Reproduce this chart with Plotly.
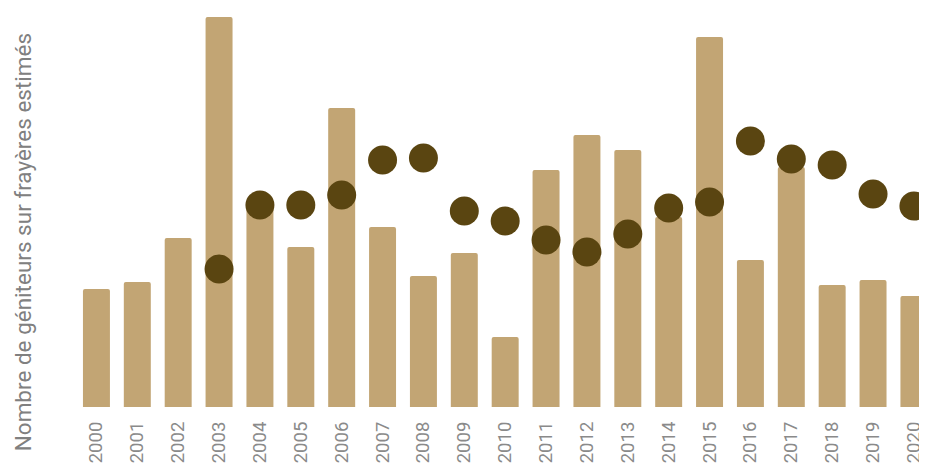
import plotly.graph_objects as go

years = list(range(2000, 2021))
tick_labels = [str(y) for y in years]
# Estimated spawner counts (relative units)
spawners = [118, 125, 169, 390, 200, 160, 299, 180, 131, 154, 70, 237, 272, 257, 190, 370, 147, 240, 122, 127, 111]
dot_years = list(range(2003, 2021))
dot_values = [138, 202, 202, 212, 247, 249, 196, 186, 167, 155, 173, 199, 205, 266, 248, 242, 213, 201]

bar_color = "#C2A574"
dot_color = "#5A4511"
font_family = "Roboto, 'Liberation Sans', Arial, sans-serif"

fig = go.Figure()
fig.add_trace(go.Bar(
    x=years, y=spawners, width=0.66,
    marker=dict(color=bar_color, line=dict(width=0), cornerradius=2),
    showlegend=False,
))
fig.add_trace(go.Scatter(
    x=dot_years, y=dot_values, mode="markers",
    marker=dict(color=dot_color, size=29, line=dict(width=0)),
    showlegend=False,
))

fig.update_layout(
    width=919, height=459,
    margin=dict(l=68, r=0, t=2, b=60),
    paper_bgcolor="white", plot_bgcolor="white",
    font=dict(family=font_family, color="#7a7a7a"),
    xaxis=dict(
        range=[1999.5, 2020.32],
        tickmode="array", tickvals=years, ticktext=tick_labels,
        tickangle=-90, tickfont=dict(size=18.5, color="#8a8a8a"),
        showgrid=False, zeroline=False, showline=False, ticks="",
        automargin=False, ticklabelstandoff=10, ticklabeloverflow="allow",
    ),
    yaxis=dict(
        range=[0, 397], showticklabels=False, showgrid=False,
        zeroline=False, showline=False, ticks="", automargin=False,
    ),
    annotations=[dict(
        text="Nombre de géniteurs sur frayères estimés",
        xref="paper", yref="paper", x=-0.062, y=0.4156,
        textangle=-90, showarrow=False,
        font=dict(size=22.5, color="#808080", family=font_family),
        xanchor="center", yanchor="middle",
    )],
)

fig.write_html("out.html")
